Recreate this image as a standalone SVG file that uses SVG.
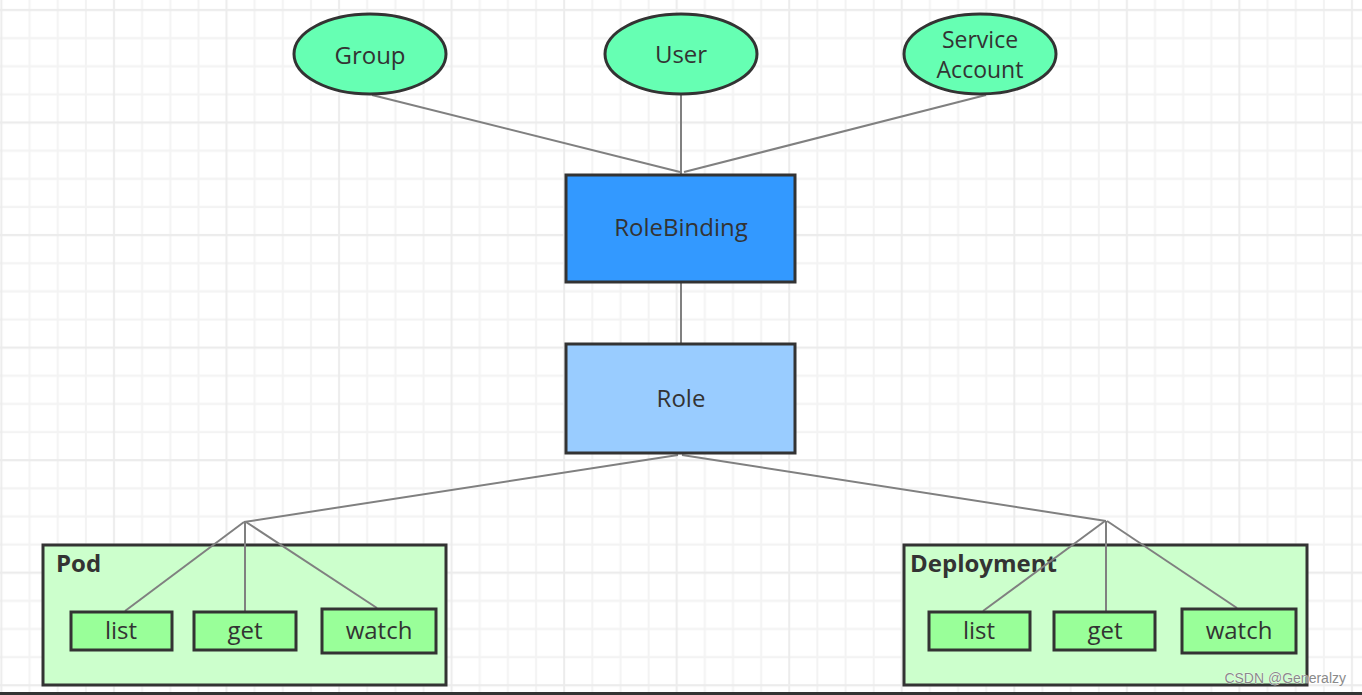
<svg xmlns="http://www.w3.org/2000/svg" width="1362" height="695" viewBox="0 0 1362 695">
  <defs>
    <pattern id="grid" patternUnits="userSpaceOnUse" x="-12.618" y="-4.068" width="112.544" height="112.544">
      <g stroke="#f3f3f3" stroke-width="2">
        <line x1="42.204" y1="0" x2="42.204" y2="112.544"/>
        <line x1="70.34" y1="0" x2="70.34" y2="112.544"/>
        <line x1="98.476" y1="0" x2="98.476" y2="112.544"/>
        <line x1="0" y1="42.204" x2="112.544" y2="42.204"/>
        <line x1="0" y1="70.34" x2="112.544" y2="70.34"/>
        <line x1="0" y1="98.476" x2="112.544" y2="98.476"/>
      </g>
      <g stroke="#ececec" stroke-width="2">
        <line x1="14.068" y1="0" x2="14.068" y2="112.544"/>
        <line x1="0" y1="14.068" x2="112.544" y2="14.068"/>
      </g>
    </pattern>
    <style>
      .lbl { font-family: "Open Sans", "Noto Sans", sans-serif; font-size: 24px; fill: #333; text-anchor: middle; }
      .sm { font-size: 23px; }
      .title { font-family: "Open Sans", "Noto Sans", sans-serif; font-size: 24px; font-weight: bold; fill: #333; }
      .ell { fill: #66FFB3; stroke: #333; stroke-width: 3; }
      .box { stroke: #333; stroke-width: 3; }
      .op { fill: #99FF99; stroke: #333; stroke-width: 3; }
      .grp { fill: #CCFFCC; stroke: #333; stroke-width: 3; }
      .conn { stroke: #808080; stroke-width: 2; fill: none; }
    </style>
  </defs>
  <rect x="0" y="0" width="1362" height="695" fill="#ffffff"/>
  <rect x="0" y="0" width="1362" height="695" fill="url(#grid)"/>
  <line x1="0" y1="693.5" x2="1362" y2="693.5" stroke="#333" stroke-width="3"/>

  <g id="pod">
    <rect class="grp" x="43" y="545" width="403" height="140"/>
    <text class="title" x="56" y="572">Pod</text>
  </g>
  <g id="deployment">
    <rect class="grp" x="904" y="545" width="403" height="140"/>
    <text class="title" x="910" y="572">Deployment</text>
  </g>

  <g id="connectors">
    <line class="conn" x1="372" y1="95" x2="680" y2="172"/>
    <line class="conn" x1="681" y1="95" x2="681" y2="175"/>
    <line class="conn" x1="986" y1="95" x2="684" y2="172"/>
    <line class="conn" x1="681" y1="282" x2="681" y2="344"/>
    <line class="conn" x1="678" y1="455" x2="244" y2="522"/>
    <line class="conn" x1="682" y1="455" x2="1106" y2="521"/>
    <line class="conn" x1="244" y1="522" x2="125" y2="611"/>
    <line class="conn" x1="245" y1="522" x2="245" y2="611"/>
    <line class="conn" x1="246" y1="522" x2="377" y2="608"/>
    <line class="conn" x1="1105" y1="521" x2="983" y2="611"/>
    <line class="conn" x1="1106" y1="521" x2="1106" y2="611"/>
    <line class="conn" x1="1107" y1="521" x2="1237" y2="608"/>
  </g>

  <g id="group">
    <ellipse class="ell" cx="370" cy="54" rx="76" ry="40"/>
    <text class="lbl" x="370" y="64">Group</text>
  </g>
  <g id="user">
    <ellipse class="ell" cx="681" cy="54" rx="76" ry="40"/>
    <text class="lbl" x="681" y="63">User</text>
  </g>
  <g id="serviceaccount">
    <ellipse class="ell" cx="980" cy="54" rx="76" ry="40"/>
    <text class="lbl sm" x="980" y="48">Service</text>
    <text class="lbl sm" x="980" y="78">Account</text>
  </g>
  <g id="rolebinding">
    <rect class="box" x="566" y="175" width="229" height="107" fill="#3399FF"/>
    <text class="lbl" x="681" y="236">RoleBinding</text>
  </g>
  <g id="role">
    <rect class="box" x="566" y="344" width="229" height="109" fill="#99CCFF"/>
    <text class="lbl" x="681" y="407">Role</text>
  </g>

  <g id="pod-list">
    <rect class="op" x="71" y="612" width="101" height="38"/>
    <text class="lbl" x="121" y="639">list</text>
  </g>
  <g id="pod-get">
    <rect class="op" x="194" y="612" width="102" height="38"/>
    <text class="lbl" x="245" y="639">get</text>
  </g>
  <g id="pod-watch">
    <rect class="op" x="322" y="609" width="114" height="44"/>
    <text class="lbl" x="379" y="639">watch</text>
  </g>

  <g id="dep-list">
    <rect class="op" x="929" y="612" width="101" height="38"/>
    <text class="lbl" x="979" y="639">list</text>
  </g>
  <g id="dep-get">
    <rect class="op" x="1054" y="612" width="101" height="38"/>
    <text class="lbl" x="1105" y="639">get</text>
  </g>
  <g id="dep-watch">
    <rect class="op" x="1182" y="609" width="114" height="44"/>
    <text class="lbl" x="1239" y="639">watch</text>
  </g>

  <text x="1346" y="683" text-anchor="end" font-family="Liberation Sans, Arial, sans-serif" font-size="14" fill="#8a8a8a" stroke="#ffffff" stroke-width="0.6" paint-order="stroke">CSDN @Generalzy</text>
</svg>
